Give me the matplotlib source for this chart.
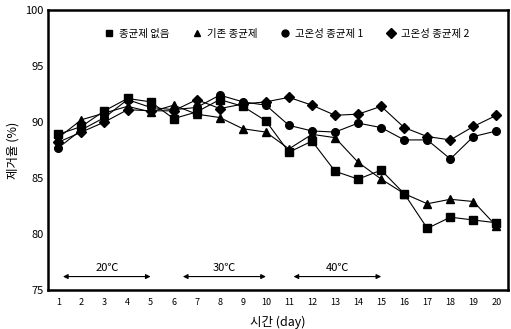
import matplotlib
matplotlib.use("Agg")
import matplotlib.pyplot as plt

plt.rcParams['font.family'] = ['Noto Sans CJK KR', 'DejaVu Sans']

days = list(range(1, 21))
series_names = ["종균제 없음", "기존 종균제", "고온성 종균제 1", "고온성 종균제 2"]
no_starter = [88.9, 89.6, 91.0, 92.1, 91.8, 90.3, 90.9, 92.0, 91.4, 90.1,
              87.3, 88.3, 85.6, 84.9, 85.7, 83.6, 80.5, 81.5, 81.25, 81.0]
conventional = [88.6, 90.2, 90.8, 91.4, 90.9, 91.5, 90.7, 90.4, 89.4, 89.1,
                87.6, 88.9, 88.6, 86.4, 84.9, 83.6, 82.7, 83.1, 82.9, 80.7]
thermo1 = [87.7, 89.3, 90.4, 92.0, 91.3, 91.1, 91.3, 92.4, 91.8, 91.5,
           89.7, 89.2, 89.1, 89.9, 89.5, 88.4, 88.4, 86.7, 88.7, 89.2]
thermo2 = [88.2, 89.1, 90.0, 91.1, 91.0, 91.0, 92.0, 91.2, 91.6, 91.8,
           92.2, 91.5, 90.6, 90.7, 91.4, 89.5, 88.7, 88.4, 89.6, 90.6]
y_ticks = [75, 80, 85, 90, 95, 100]
periods = [("20℃", 1.2, 5.0), ("30℃", 6.4, 10.0), ("40℃", 11.2, 15.0)]

fig = plt.figure(figsize=(5.11, 3.29), dpi=100)
ax = fig.add_axes([48/511, 1 - 290/329, 460/511, 280/329])

markers = ['s', '^', 'o', 'D']
sizes = [5.8, 6.0, 5.5, 5.5]
for vals, m, s, name in zip([no_starter, conventional, thermo1, thermo2], markers, sizes, series_names):
    ax.plot(days, vals, color='black', lw=0.8, marker=m, ms=s, mfc='black', mec='black', label=name)

ax.set_xlim(0.55, 20.5)
ax.set_ylim(75, 100)
ax.set_xticks(days)
ax.set_xticklabels([str(d) for d in days], fontsize=6.5)
ax.set_yticks(y_ticks)
ax.set_yticklabels([str(v) for v in y_ticks], fontsize=8)
ax.tick_params(axis='both', length=0, pad=6)
ax.tick_params(axis='y', pad=3)
for sp in ax.spines.values():
    sp.set_linewidth(1.8)
    sp.set_color('black')

ax.set_xlabel("시간 (day)", fontsize=9, labelpad=6)
ax.set_ylabel("제거율 (%)", fontsize=9, labelpad=4)

for label, x0, x1 in periods:
    ax.annotate('', xy=(x0, 76.2), xytext=(x1, 76.2),
                arrowprops=dict(arrowstyle='<|-|>', color='black', lw=0.8,
                                mutation_scale=7, shrinkA=0, shrinkB=0))
    ax.text((x0 + x1) / 2, 76.5, label, ha='center', va='bottom', fontsize=8)

leg = ax.legend(loc='center', bbox_to_anchor=(0.52, 0.914), ncol=4, frameon=False,
                fontsize=7.5, handlelength=0.8, handletextpad=0.6, columnspacing=2.2,
                numpoints=1)
for h in leg.legend_handles:
    h.set_linestyle('None')
    h.set_markersize(5)

fig.savefig("out.png", dpi=100)
